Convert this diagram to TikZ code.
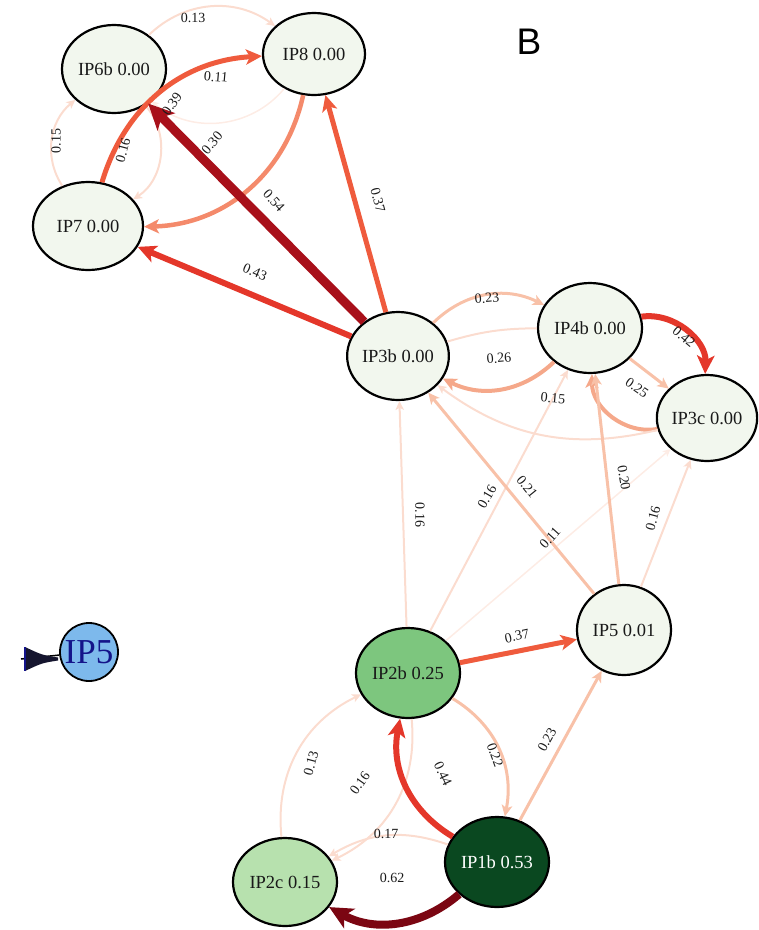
\documentclass[tikz,border=0pt]{standalone}
\usepackage{fontspec}
\setmainfont{Liberation Serif}
\newfontfamily\bfont{Liberation Sans}
\usetikzlibrary{shapes.geometric,arrows.meta}
\definecolor{ea}{HTML}{FDECE5}
\definecolor{eb}{HTML}{FBDCCF}
\definecolor{ec}{HTML}{F8C1A8}
\definecolor{ed}{HTML}{F5A88A}
\definecolor{ee}{HTML}{F48A6B}
\definecolor{ef}{HTML}{EF5B3D}
\definecolor{eg}{HTML}{E4372A}
\definecolor{eh}{HTML}{A8101A}
\definecolor{ei}{HTML}{7B0612}
\definecolor{nwhite}{HTML}{F2F7EE}
\definecolor{ngreenA}{HTML}{7DC67E}
\definecolor{ngreenB}{HTML}{0A4820}
\definecolor{ngreenC}{HTML}{B7E1AE}
\definecolor{nblue}{HTML}{7DB9EC}
\definecolor{nnavy}{HTML}{14148A}
\definecolor{wedgec}{HTML}{15152E}
\tikzset{
  nd/.style={ellipse, draw=black, line width=2.2pt, inner sep=0pt, fill=nwhite,
    font=\fontsize{18.5}{20}\selectfont, text=black!90},
  lb/.style={font=\fontsize{14}{15}\selectfont, text=black!90, inner sep=1pt},
  arr/.style={-{Stealth[length=4pt 2.4, width'=0pt 0.95, inset'=0pt 0.25]}},
  wa/.style={draw=ea, line width=1.5pt},
  wb/.style={draw=eb, line width=2pt},
  wc/.style={draw=ec, line width=3pt},
  wd/.style={draw=ed, line width=4pt},
  we/.style={draw=ee, line width=4.5pt},
  wf/.style={draw=ef, line width=5pt},
  wg/.style={draw=eg, line width=6pt},
  wh/.style={draw=eh, line width=9pt},
  wi/.style={draw=ei, line width=8pt},
}
\begin{document}
\begin{tikzpicture}[x=1pt,y=-1pt]
\useasboundingbox (0,0) rectangle (759,930);
% nodes
\node[nd, minimum width=104pt, minimum height=88pt] (n6b) at (114,69) {IP6b 0.00};
\node[nd, minimum width=102pt, minimum height=82pt] (n8) at (314,54) {IP8 0.00};
\node[nd, minimum width=110pt, minimum height=88pt] (n7) at (88,226) {IP7 0.00};
\node[nd, minimum width=96pt, minimum height=88pt] (n3b) at (398,356) {IP3b 0.00};
\node[nd, minimum width=104pt, minimum height=90pt] (n4b) at (590,328) {IP4b 0.00};
\node[nd, minimum width=98pt, minimum height=86pt] (n3c) at (707,418) {IP3c 0.00};
\node[nd, minimum width=94pt, minimum height=90pt] (n5) at (624,630) {IP5 0.01};
\node[nd, minimum width=104pt, minimum height=90pt, fill=ngreenA] (n2b) at (408,673) {IP2b 0.25};
\node[nd, minimum width=104pt, minimum height=90pt, fill=ngreenB, text=white] (n1b) at (497,862) {IP1b 0.53};
\node[nd, minimum width=104pt, minimum height=88pt, fill=ngreenC] (n2c) at (285,882) {IP2c 0.15};
\node[circle, draw=black, line width=1.8pt, fill=nblue, minimum size=58pt, inner sep=0pt,
  font=\fontsize{35}{36}\selectfont, text=nnavy] (ip5) at (89,652) {IP5};
\node[font=\bfont\fontsize{37}{40}\selectfont] (title) at (529,42) {B};

% edges top-left cluster
\draw[wb,arr] (n6b) to[bend left=40] (n8);
\draw[wa,arr] (n8) to[bend left=45] (n6b);
\draw[wb,arr] (n7) to[bend left=42] (n6b);
\draw[wb,arr] (n6b) to[bend left=50] (n7);
\draw[we,arr] (n8) to[bend left=38] (n7);
\draw[wf,arr] (n7) to[bend left=35] (n8);
\draw[wh,arr] (n3b) -- (n6b);
\draw[wf,arr] (n3b) -- (n8);
\draw[wg,arr] (n3b) -- (n7);
% middle
\draw[wc,arr] (n3b) to[bend left=35] (n4b);
\draw[wb] (n4b) to[bend right=8] (n3b);
\draw[wd,arr] (n4b) to[bend left=35] (n3b);
\draw[wc,arr] (n4b) -- (n3c);
\draw[wg,arr] (n4b) to[bend left=50] (n3c);
\draw[wd,arr] (n3c) to[bend left=50] (n4b);
\draw[wb,arr] (n3c) to[bend left=25] (n3b);
\draw[wb,arr] (n2b) -- (n3b);
\draw[wb,arr] (n2b) -- (n4b);
\draw[wa,arr] (n2b) -- (n3c);
\draw[wc,arr] (n5) -- (n3b);
\draw[wc,arr] (n5) -- (n4b);
\draw[wb,arr] (n5) -- (n3c);
% bottom
\draw[wf,arr] (n2b) -- (n5);
\draw[wc,arr] (n1b) -- (n5);
\draw[wc,arr] (n2b) to[bend left=35] (n1b);
\draw[wb,arr] (n2c) to[bend left=35] (n2b);
\draw[wb,arr] (n2b) to[bend left=35] (n2c);
\draw[wb,arr] (n1b) to[bend right=25] (n2c);
\draw[wg,arr] (n1b) to[bend left=35] (n2b);
\draw[wi,arr] (n1b) to[bend left=35] (n2c);

% IP5 incoming stub
\coordinate (tl) at (21,659);
\draw[line width=1.5pt, black] (tl) -- (ip5);
\fill[wedgec] (25,647) .. controls (42,655) .. (58,657.5) -- (58,660.5) .. controls (42,663) .. (25,671) -- cycle;
\draw[nnavy, line width=1.5pt] (25,647) -- (25,671);

% labels
\node[lb] (l1) at (193,18) {0.13};
\node[lb, rotate=-5] (l2) at (216,77) {0.11};
\node[lb, rotate=55] (l3) at (172,104) {0.39};
\node[lb, rotate=90] (l4) at (56,141) {0.15};
\node[lb, rotate=75] (l5) at (123,150) {0.16};
\node[lb, rotate=50] (l6) at (212,143) {0.30};
\node[lb, rotate=-48] (l7) at (274,201) {0.54};
\node[lb, rotate=-75] (l8) at (378,200) {0.37};
\node[lb, rotate=-23] (l9) at (255,272) {0.43};
\node[lb, rotate=5] (l10) at (487,298) {0.23};
\node[lb, rotate=5] (l11) at (499,358) {0.26};
\node[lb, rotate=-40] (l12) at (684,337) {0.42};
\node[lb, rotate=-35] (l13) at (637,388) {0.25};
\node[lb, rotate=-5] (l14) at (553,398) {0.15};
\node[lb, rotate=-90] (l15) at (420,515) {0.16};
\node[lb, rotate=60] (l16) at (487,497) {0.16};
\node[lb, rotate=-51] (l17) at (527,487) {0.21};
\node[lb, rotate=48] (l18) at (550,538) {0.11};
\node[lb, rotate=-80] (l19) at (624,478) {0.20};
\node[lb, rotate=75] (l20) at (653,518) {0.16};
\node[lb, rotate=12] (l21) at (517,636) {0.37};
\node[lb, rotate=75] (l22) at (311,763) {0.13};
\node[lb, rotate=55] (l23) at (360,783) {0.16};
\node[lb, rotate=-65] (l24) at (443,774) {0.44};
\node[lb, rotate=-70] (l25) at (495,755) {0.22};
\node[lb, rotate=61] (l26) at (547,740) {0.23};
\node[lb] (l27) at (386,834) {0.17};
\node[lb] (l28) at (392,878) {0.62};
\end{tikzpicture}
\end{document}
